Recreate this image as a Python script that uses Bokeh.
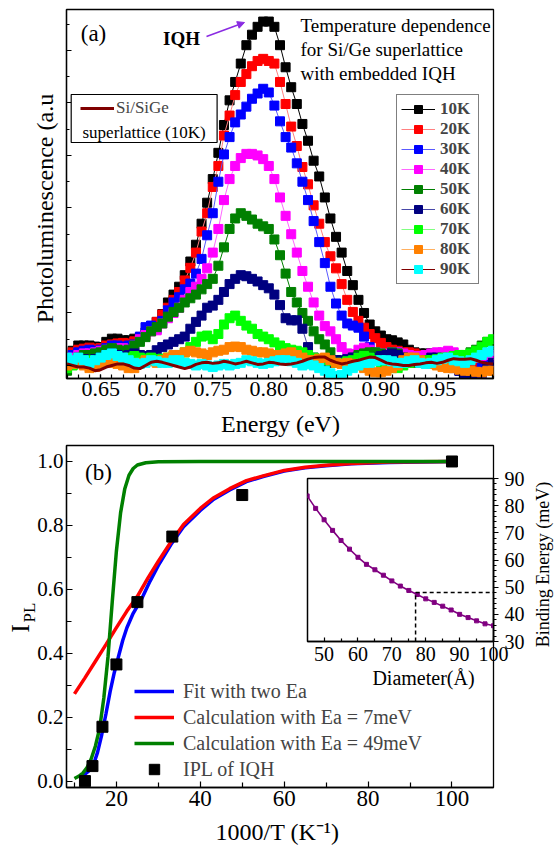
import math
from bokeh.plotting import figure
from bokeh.models import (Range1d, FixedTicker, NumeralTickFormatter, Legend, LegendItem,
                          Label, BoxAnnotation, Arrow, NormalHead, GridBox, ColumnDataSource)
from bokeh.embed import file_html
from bokeh.resources import INLINE

FONT = "Liberation Serif"

# ---------------- panel (a): PL spectra ----------------
energy_eV = [round(0.620 + 0.005 * i, 3) for i in range(77)]
temperatures = ["10K", "20K", "30K", "40K", "50K", "60K", "70K", "80K", "90K"]

pl_10K = [1.5, 2.8, 3.8, 3.8, 3.8, 3.6, 3.5, 4.5, 5.1, 5.1,
          4.8, 4.8, 5.1, 5.3, 6.3, 7.5, 8.3, 9.8, 12.0, 13.5,
          15.0, 17.2, 19.8, 23.0, 27.0, 31.0, 35.5, 40.5, 45.8, 50.5,
          54.0, 57.5, 61.0, 63.0, 64.5, 65.5, 65.5, 64.5, 61.0, 56.8,
          53.0, 49.8, 46.0, 42.8, 39.0, 36.0, 32.0, 28.0, 24.5, 21.5,
          18.0, 15.3, 12.5, 10.0, 7.8, 6.5, 5.7, 5.0, 4.8, 4.4,
          4.0, 3.0, 2.5, 2.3, 2.3, 2.3, 2.0, 1.5, 1.0, 0.8,
          0.5, 0.0, -0.5, -0.3, 0.0, 0.5, 1.0]
pl_20K = [1.5, 2.5, 3.0, 3.2, 3.4, 3.2, 3.3, 3.8, 4.0, 4.2,
          4.3, 4.2, 4.6, 5.0, 5.8, 7.0, 8.3, 9.7, 11.0, 12.5,
          14.0, 16.2, 18.6, 21.5, 25.5, 29.0, 34.0, 38.0, 43.8, 47.6,
          51.5, 54.0, 55.5, 57.0, 58.0, 58.4, 58.0, 57.5, 54.0, 49.8,
          45.5, 41.8, 37.8, 34.5, 30.5, 27.0, 23.5, 20.8, 18.5, 15.5,
          12.5, 10.2, 8.5, 7.2, 6.0, 5.2, 4.3, 3.5, 3.0, 2.8,
          2.5, 2.5, 2.3, 2.0, 1.8, 1.5, 1.3, 1.0, 0.8, 0.5,
          0.5, 0.5, 0.5, 0.3, 0.5, 1.0, 1.5]
pl_30K = [1.0, 2.0, 2.5, 2.8, 3.0, 2.8, 3.0, 3.3, 3.8, 3.8,
          3.6, 3.8, 4.0, 5.5, 7.3, 7.6, 7.0, 8.5, 10.5, 12.0,
          13.0, 14.5, 15.6, 17.5, 20.3, 24.8, 29.0, 35.0, 40.2, 43.5,
          46.3, 47.8, 49.3, 50.8, 51.8, 52.7, 52.0, 49.5, 46.5, 43.5,
          41.5, 38.5, 35.0, 31.5, 27.5, 23.5, 19.5, 15.0, 11.8, 9.5,
          8.0, 7.6, 7.2, 5.5, 3.5, 2.5, 2.2, 2.2, 2.5, 2.5,
          2.0, 1.8, 1.5, 1.5, 1.8, 2.0, 1.5, 1.0, 0.5, 0.0,
          -1.0, -1.5, -2.0, -1.5, -0.5, 0.5, 1.5]
pl_40K = [0.5, 1.5, 2.0, 2.3, 2.3, 2.5, 2.8, 3.0, 3.2, 3.3,
          3.3, 3.0, 3.8, 5.0, 5.8, 6.5, 6.7, 8.0, 9.0, 10.0,
          11.0, 12.5, 14.0, 15.0, 16.5, 18.5, 21.5, 26.0, 31.5, 35.5,
          38.0, 39.5, 40.3, 40.3, 40.0, 39.3, 38.0, 35.5, 32.0, 28.5,
          25.0, 21.5, 18.0, 15.0, 12.0, 9.5, 7.5, 6.5, 5.0, 3.5,
          2.3, 2.2, 3.0, 3.4, 3.0, 2.5, 2.3, 2.3, 2.5, 2.5,
          2.3, 2.0, 1.8, 1.8, 2.0, 2.3, 2.5, 2.5, 2.8, 2.5,
          2.0, 1.5, 1.3, 1.5, 1.8, 2.0, 2.0]
pl_50K = [-1.0, 0.5, 1.5, 2.0, 2.0, 2.3, 2.5, 3.0, 3.3, 3.0,
          2.8, 3.0, 3.8, 4.5, 5.4, 6.5, 7.3, 8.0, 9.3, 10.2,
          11.0, 12.0, 12.8, 13.5, 14.5, 15.5, 16.5, 19.0, 22.5, 26.0,
          28.0, 29.0, 28.5, 27.8, 27.0, 26.5, 26.0, 24.0, 21.0, 17.5,
          14.0, 12.0, 10.0, 8.5, 6.5, 5.0, 4.0, 2.5, 1.0, 0.5,
          0.8, 1.5, 2.0, 2.3, 2.5, 2.5, 2.3, 2.0, 2.5, 2.3,
          1.5, 1.0, 0.5, 0.5, 1.0, 1.0, 0.5, 0.3, 0.5, 1.0,
          1.5, 2.0, 2.5, 3.0, 3.8, 4.5, 4.0]
pl_60K = [0.0, 0.5, 1.0, 1.2, 1.0, 1.2, 1.5, 2.0, 2.3, 2.0,
          1.8, 2.0, 2.3, 2.0, 1.8, 2.0, 2.9, 3.5, 4.0, 4.5,
          5.0, 5.5, 7.0, 8.3, 9.5, 11.0, 11.4, 12.5, 14.0, 15.5,
          16.5, 17.2, 17.0, 16.5, 16.0, 15.3, 14.7, 13.5, 11.5, 9.0,
          8.6, 8.6, 7.0, 3.5, 1.5, 0.5, 0.5, 0.5, 1.0, 1.0,
          1.2, 1.5, 1.5, 1.5, 1.3, 1.5, 1.8, 2.0, 2.3, 2.0,
          1.5, 1.0, 0.8, 0.8, 1.0, 1.5, 1.5, 1.3, 0.5, -0.5,
          -1.0, -1.5, -2.0, -2.0, -1.5, -0.5, 0.5]
pl_70K = [-0.5, 0.0, 0.8, 1.0, 1.0, 0.8, 1.0, 1.5, 1.8, 1.5,
          1.3, 1.5, 1.8, 1.5, 1.3, 1.5, 1.2, 1.3, 1.5, 1.8,
          2.0, 2.5, 3.5, 4.5, 5.5, 5.7, 5.0, 6.0, 7.8, 9.0,
          9.5, 8.5, 7.6, 7.0, 6.0, 5.5, 5.0, 4.4, 3.8, 3.3,
          3.0, 2.8, 2.5, 2.0, 1.5, 1.2, 1.0, 0.8, 0.5, 0.5,
          0.8, 1.0, 1.5, 1.8, 1.5, 1.0, 0.5, 0.0, -0.5, -0.5,
          0.0, 0.5, 0.8, 0.8, 1.0, 1.0, 1.2, 1.5, 1.5, 1.8,
          2.0, 2.0, 2.3, 2.8, 3.5, 4.5, 5.0]
pl_80K = [0.0, 0.3, 0.5, 0.0, -0.5, -0.3, 0.3, 0.8, 0.5, 0.3,
          0.0, -0.5, -0.5, 0.5, 1.0, 0.8, 0.5, 1.0, 1.5, 2.0,
          2.0, 2.5, 2.8, 2.5, 2.3, 2.0, 2.5, 2.8, 3.0, 3.5,
          3.6, 3.5, 3.0, 2.8, 2.5, 2.5, 2.3, 2.0, 2.0, 2.3,
          2.5, 2.0, 1.5, 1.0, 1.0, 1.3, 1.5, 1.0, 0.5, 0.3,
          0.5, 0.3, 0.0, -0.5, -1.0, -1.3, -1.3, -1.0, -0.5, 0.0,
          1.0, 1.5, 1.5, 1.0, 0.5, 0.3, 0.0, -0.3, -0.5, -0.5,
          -0.8, -1.0, -1.0, -1.2, -1.3, -1.0, -1.0]
pl_90K = [1.5, 1.0, 1.5, 1.0, 0.5, 1.0, 1.5, 2.0, 2.3, 1.8,
          1.5, 1.0, 0.5, 0.3, 0.5, 1.0, 0.8, 0.5, 0.5, 1.0,
          1.0, 0.5, 0.3, 0.0, 0.3, 0.0, -0.3, 0.0, 0.3, 0.0,
          0.3, 0.5, 1.0, 0.8, 0.5, 0.3, 0.5, 0.8, 1.0, 1.0,
          0.8, 0.5, 0.0, 0.3, 0.0, -0.5, -1.0, -1.5, -2.0, -1.8,
          -1.0, -0.5, 0.0, 0.5, 0.5, 0.8, 1.0, 1.0, 0.8, 0.5,
          0.5, 0.8, 1.0, 0.5, 0.3, 0.5, 1.0, 1.3, 1.5, 1.0,
          0.8, 0.5, 1.0, 1.5, 2.0, 2.5, 2.8]
pl_sisige_10K = [0.3, 0.0, -0.3, -0.3, -0.5, -1.0, -0.8, -0.3, 0.0, 0.3,
                 0.3, 0.0, -0.5, -0.6, 0.0, 0.6, 0.8, 0.6, 0.3, 0.0,
                 -0.3, -0.6, -0.3, 0.2, 0.5, 0.6, 0.4, 0.5, 0.8, 0.6,
                 0.3, 0.5, 0.8, 0.5, 0.2, 0.3, 0.6, 0.5, 0.3, 0.2,
                 0.3, 0.5, 0.8, 1.2, 1.5, 1.6, 1.6, 1.0, 0.6, 0.3,
                 0.5, 0.8, 1.0, 1.3, 1.6, 1.5, 1.0, 0.5, 0.3, 0.2,
                 0.0, 0.0, 0.2, 0.3, 0.5, 0.6, 0.4, 0.6, 1.0, 1.3,
                 1.2, 1.2, 1.3, 1.0, 0.6, 0.4, 0.3]

marker_colors = ["#000000", "#ff0000", "#0000ff", "#ff00ff", "#008000",
                 "#000080", "#00ff00", "#ff8000", "#00ffff"]
line_colors = ["#000000", "#ff8080", "#5a5aff", "#ff66ff", "#008000",
               "#4848a8", "#80ff80", "#ffb060", "#800000"]

energy_ticks = [0.65, 0.70, 0.75, 0.80, 0.85, 0.90, 0.95]
energy_minor = [round(0.62 + 0.01 * i, 2) for i in range(39)]
pl_ticks = [0, 10, 20, 30, 40, 50, 60]
pl_minor = [-5, 5, 15, 25, 35, 45, 55, 65]

# ---------------- panel (b): normalised intensity ----------------
invT_fit = [11.8, 12.5, 13.5, 14.5, 15.5, 16.5, 17.5, 18.5, 19.5, 20.5,
            21.5, 22.5, 24, 26, 28, 30, 33, 36, 40, 43,
            47, 51, 55, 60, 65, 70, 76, 85, 100]
ipl_fit = [0.015, 0.022, 0.033, 0.05, 0.09, 0.145, 0.21, 0.28, 0.34, 0.39,
           0.44, 0.48, 0.525, 0.57, 0.625, 0.675, 0.74, 0.796, 0.847, 0.88,
           0.911, 0.937, 0.953, 0.97, 0.98, 0.987, 0.993, 0.997, 1.0]
invT_7meV = [10, 12.5, 15, 17.5, 20, 22.5, 25, 27.5, 30, 33,
             36, 40, 43, 47, 51, 55, 60, 65, 70, 76, 85, 100]
ipl_7meV = [0.273, 0.323, 0.375, 0.427, 0.48, 0.532, 0.578, 0.635, 0.688, 0.748,
            0.803, 0.853, 0.885, 0.915, 0.94, 0.955, 0.972, 0.982, 0.988, 0.994, 0.998, 1.0]
invT_49meV = [10, 11, 12, 13, 14, 15, 16, 17, 18, 19,
              20, 21, 22, 23, 24, 25, 27, 30, 40, 60, 80, 100]
ipl_49meV = [0.008, 0.015, 0.025, 0.042, 0.07, 0.11, 0.165, 0.26, 0.39, 0.56,
             0.72, 0.84, 0.915, 0.957, 0.978, 0.989, 0.996, 0.999, 1.0, 1.0, 1.0, 1.0]
invT_meas = [12.5, 14.29, 16.67, 20.0, 25.0, 33.33, 50.0, 100.0]
ipl_meas = [0.0, 0.047, 0.17, 0.365, 0.56, 0.765, 0.895, 1.0]

invT_ticks = [20, 40, 60, 80, 100]
invT_minor = [10, 30, 50, 70, 90]
ipl_ticks = [0.0, 0.2, 0.4, 0.6, 0.8, 1.0]
ipl_minor = [0.1, 0.3, 0.5, 0.7, 0.9]

# inset: binding energy vs diameter
diameter_A = [45, 47.5, 50, 52.5, 55, 57.5, 60, 62.5, 65, 67.5, 70, 72.5,
              75, 77.5, 80, 82.5, 85, 87.5, 90, 92.5, 95, 97.5, 100]
binding_meV = [83.6, 79.0, 74.8, 70.9, 67.2, 64.0, 61.0, 58.4, 56.4, 54.4, 52.3, 50.4,
               48.8, 47.3, 45.7, 44.4, 43.0, 41.6, 40.0, 38.8, 37.6, 36.5, 35.8]
guide_diameter = [77, 77, 100]
guide_binding = [30, 48, 48]
diam_ticks = [50, 60, 70, 80, 90, 100]
diam_minor = [45, 55, 65, 75, 85, 95]
be_ticks = [30, 40, 50, 60, 70, 80, 90]
be_minor = [v for v in range(30, 91, 2) if v % 10]


def style_axis(ax, size, tin=5, tmin=3, tout=0, mout=0, standoff=3):
    ax.axis_line_width = 1.3
    ax.axis_line_color = "black"
    ax.major_tick_in = tin
    ax.major_tick_out = tout
    ax.minor_tick_in = tmin
    ax.minor_tick_out = mout
    ax.major_tick_line_width = 1.2
    ax.minor_tick_line_width = 1.2
    ax.major_tick_line_color = "black"
    ax.minor_tick_line_color = "black"
    ax.major_label_text_font = FONT
    ax.major_label_text_font_size = size
    ax.major_label_text_color = "black"
    ax.major_label_standoff = standoff


def lab(text, x, y, size, angle=0.0, align="center", style="normal", color="black"):
    return Label(x=x, y=y, x_units="screen", y_units="screen", text=text, angle=angle,
                 text_font=FONT, text_font_size=size, text_font_style=style,
                 text_align=align, text_baseline="middle", text_color=color)


# ================= figure (a) =================
p1 = figure(width=554, height=438, output_backend="svg", toolbar_location=None,
            x_range=Range1d(0.6195, 1.0005), y_range=Range1d(-2.48, 67.8),
            min_border_left=66, min_border_right=59, min_border_top=9, min_border_bottom=60)
p1.grid.visible = False
p1.outline_line_color = "black"
p1.outline_line_width = 1.3
p1.xaxis.ticker = FixedTicker(ticks=energy_ticks, minor_ticks=energy_minor)
p1.xaxis.formatter = NumeralTickFormatter(format="0.00")
p1.yaxis.ticker = FixedTicker(ticks=pl_ticks, minor_ticks=pl_minor)
style_axis(p1.xaxis[0], "22px", tin=4, tmin=4, standoff=3)
style_axis(p1.yaxis[0], "12px", tin=5, tmin=3)
p1.yaxis.major_label_overrides = {t: "" for t in pl_ticks}

series = [pl_10K, pl_20K, pl_30K, pl_40K, pl_50K, pl_60K, pl_70K, pl_80K, pl_90K]
items = []
for name, ys, mc, lc in zip(temperatures, series, marker_colors, line_colors):
    src = ColumnDataSource(dict(x=energy_eV, y=ys))
    lr = p1.line("x", "y", source=src, line_color=lc, line_width=1)
    sr = p1.scatter("x", "y", source=src, marker="square", size=9,
                    fill_color=mc, line_color=mc)
    items.append(LegendItem(label=name, renderers=[lr, sr]))

ref_line = p1.line(energy_eV, pl_sisige_10K, line_color="#800000", line_width=3)

leg1 = Legend(items=items, location=(330, 94), glyph_width=34, glyph_height=20,
              label_height=20, label_width=34, spacing=0, padding=4, margin=0,
              label_standoff=5, border_line_color="black", border_line_width=1.2,
              background_fill_color="white", background_fill_alpha=1.0,
              label_text_font=FONT, label_text_font_style="bold",
              label_text_font_size="17px")
p1.add_layout(leg1)

box = BoxAnnotation(left=4.7, right=150.6, top=284, bottom=236,
                    left_units="screen", right_units="screen",
                    top_units="screen", bottom_units="screen",
                    fill_color="white", fill_alpha=1.0,
                    line_color="black", line_width=1.2, line_alpha=1.0)
p1.add_layout(box)
leg_ref = Legend(items=[LegendItem(label="Si/SiGe", renderers=[ref_line])],
                 location=(11, 257), glyph_width=34, glyph_height=18, label_height=18,
                 spacing=0, padding=3, margin=0, label_standoff=2,
                 border_line_alpha=0.0, background_fill_alpha=0.0,
                 label_text_font=FONT, label_text_font_size="17px")
p1.add_layout(leg_ref)
p1.add_layout(lab("superlattice (10K)", 16, 246, "17px", align="left"))

p1.add_layout(lab("(a)", 27, 345, "23px"))
p1.add_layout(lab("IQH", 115, 340, "19px", style="bold"))
p1.add_layout(Arrow(end=NormalHead(size=7, fill_color="#8a2be2", line_color="#8a2be2"),
                    x_start=140, y_start=342, x_end=178, y_end=356,
                    start_units="screen", end_units="screen",
                    line_color="#8a2be2", line_width=1.5))
p1.add_layout(lab("Temperature dependence", 234, 353, "19px", align="left"))
p1.add_layout(lab("for Si/Ge superlattice", 234, 329, "19px", align="left"))
p1.add_layout(lab("with embedded IQH", 234, 305, "19px", align="left"))

# ================= figure (b) =================
p2 = figure(width=554, height=408, output_backend="svg", toolbar_location=None,
            x_range=Range1d(8.1, 109.9), y_range=Range1d(-0.02, 1.05),
            min_border_left=66, min_border_right=59, min_border_top=7, min_border_bottom=59)
p2.grid.visible = False
p2.outline_line_color = "black"
p2.outline_line_width = 1.3
p2.xaxis.ticker = FixedTicker(ticks=invT_ticks, minor_ticks=invT_minor)
p2.yaxis.ticker = FixedTicker(ticks=ipl_ticks, minor_ticks=ipl_minor)
p2.yaxis.formatter = NumeralTickFormatter(format="0.0")
style_axis(p2.xaxis[0], "23px", tin=6, tmin=5, standoff=3)
style_axis(p2.yaxis[0], "21px", tin=6, tmin=5, standoff=3)

r_fit = p2.line(invT_fit, ipl_fit, line_color="#0000ff", line_width=3.5)
r_7 = p2.line(invT_7meV, ipl_7meV, line_color="#ff0000", line_width=3.5)
r_49 = p2.line(invT_49meV, ipl_49meV, line_color="#008000", line_width=3.5)
r_meas = p2.scatter(invT_meas, ipl_meas, marker="square", size=11,
                    fill_color="black", line_color="black")

leg2 = Legend(items=[LegendItem(label="Fit with two Ea", renderers=[r_fit]),
                     LegendItem(label="Calculation with Ea = 7meV", renderers=[r_7]),
                     LegendItem(label="Calculation with Ea = 49meV", renderers=[r_49]),
                     LegendItem(label="IPL of IQH", renderers=[r_meas])],
              location=(68, 5), glyph_width=40, glyph_height=26, label_height=26,
              spacing=0, padding=0, margin=0, label_standoff=9,
              border_line_alpha=0.0, background_fill_alpha=0.0,
              label_text_font=FONT, label_text_font_size="20px")
p2.add_layout(leg2)
p2.add_layout(lab("(b)", 32, 315, "23px"))

# ================= inset =================
p3 = figure(width=249, height=226, output_backend="svg", toolbar_location=None,
            x_range=Range1d(45.1, 100), y_range=Range1d(30, 90), y_axis_location="right",
            min_border_left=2, min_border_right=61, min_border_top=14, min_border_bottom=49,
            background_fill_alpha=0.0, border_fill_alpha=0.0)
p3.grid.visible = False
p3.outline_line_color = "black"
p3.outline_line_width = 1.5
p3.xaxis.ticker = FixedTicker(ticks=diam_ticks, minor_ticks=diam_minor)
p3.yaxis.ticker = FixedTicker(ticks=be_ticks, minor_ticks=be_minor)
style_axis(p3.xaxis[0], "20px", tin=4, tmin=3, standoff=5)
style_axis(p3.yaxis[0], "20px", tin=0, tmin=0, tout=5, mout=3, standoff=6)
p3.line(diameter_A, binding_meV, line_color="#800080", line_width=1.6)
p3.scatter(diameter_A, binding_meV, marker="square", size=4,
           fill_color="#800080", line_color="#800080")
p3.line(guide_diameter, guide_binding, line_color="black", line_width=1.5, line_dash="4 3")

# ====== transparent overlay (whole page) for the titles outside the frames ======
ov = figure(width=554, height=846, output_backend="svg", toolbar_location=None,
            x_range=Range1d(0, 554), y_range=Range1d(0, 846),
            x_axis_type=None, y_axis_type=None,
            min_border_left=0, min_border_right=0, min_border_top=0, min_border_bottom=0,
            outline_line_color=None, background_fill_alpha=0.0, border_fill_alpha=0.0)
ov.grid.visible = False
ov.add_layout(lab("Energy (eV)", 280, 423, "24px"))
ov.add_layout(lab("1000/T (K\u207b\u00b9)", 277, 15, "24px"))
ov.add_layout(lab("Photoluminescence (a.u", 44, 638, "24px", angle=math.pi / 2))
ov.add_layout(lab("I", 20, 218, "26px", angle=math.pi / 2))
ov.add_layout(lab("PL", 29, 234, "17px", angle=math.pi / 2))
ov.add_layout(lab("Diameter(\u00c5)", 423, 169, "20px"))
ov.add_layout(lab("Binding Energy (meV)", 542, 282, "18px", angle=math.pi / 2))

grid = GridBox(children=[(p1, 1, 1, 1, 2), (p2, 2, 1, 3, 2), (p3, 3, 2, 1, 1),
                         (ov, 0, 0, 6, 4)],
               rows=["0px", "438px", "26px", "226px", "156px", "0px"],
               cols=["0px", "305px", "249px", "0px"],
               spacing=0)

open("out.html", "w").write(file_html(grid, INLINE))
